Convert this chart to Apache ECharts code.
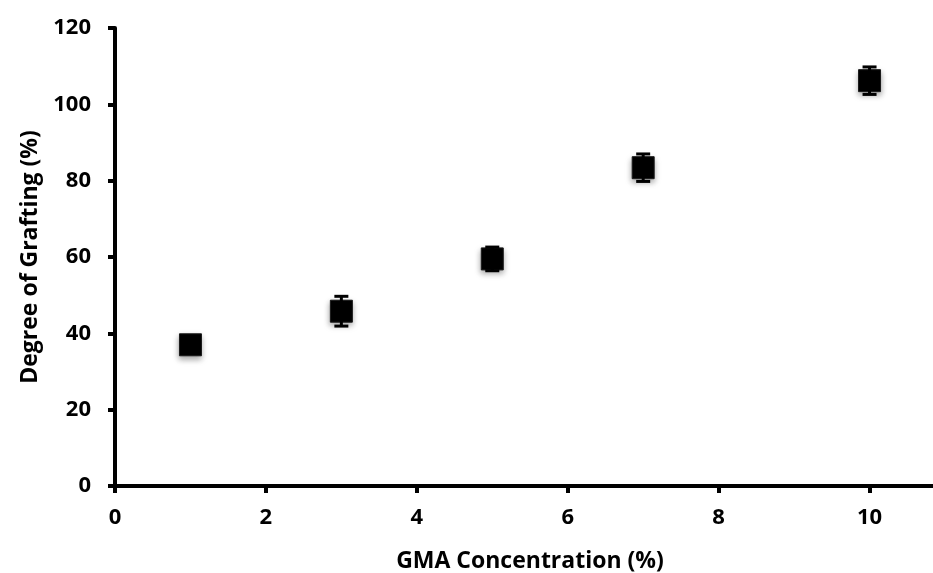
<!DOCTYPE html>
<html><head><meta charset="utf-8">
<script src="https://cdn.jsdelivr.net/npm/echarts@6/dist/echarts.min.js"></script>
<style>html,body{margin:0;padding:0;background:#fff}#c{width:933px;height:573px}</style>
</head><body><div id="c"></div>
<script>
const xValues = [1, 3, 5, 7, 10];
const yValues = [37.0, 45.8, 59.5, 83.4, 106.2];
const yErrors = [1.0, 3.9, 3.1, 3.6, 3.6];
const yTicks = [0, 20, 40, 60, 80, 100, 120];
const xTicks = [0, 2, 4, 6, 8, 10];

const chart = echarts.init(document.getElementById('c'));
const font = '"Open Sans", "Liberation Sans", sans-serif';
const errData = xValues.map((x, i) => [x, yValues[i] - yErrors[i], yValues[i] + yErrors[i]]);
chart.setOption({
  animation: false,
  grid: { left: 115, top: 28, width: 830, height: 458, containLabel: false, outerBoundsMode: 'none' },
  xAxis: {
    type: 'value', min: 0, max: 11, interval: 2,
    name: 'GMA Concentration (%)', nameLocation: 'middle', nameGap: 64,
    nameTextStyle: { fontFamily: font, fontWeight: 'bold', fontSize: 23, color: '#000' },
    axisLine: { lineStyle: { color: '#000', width: 4 } },
    axisTick: { show: true, inside: false, length: 7, lineStyle: { color: '#000', width: 4 } },
    axisLabel: { fontFamily: font, fontWeight: 'bold', fontSize: 22, color: '#000', margin: 21,
      formatter: v => xTicks.includes(v) ? String(v) : '' },
    splitLine: { show: false }
  },
  yAxis: {
    type: 'value', min: 0, max: 120, interval: 20,
    name: 'Degree of Grafting (%)', nameLocation: 'middle', nameGap: 72,
    nameTextStyle: { fontFamily: font, fontWeight: 'bold', fontSize: 23, color: '#000' },
    axisLine: { lineStyle: { color: '#000', width: 4 } },
    axisTick: { show: true, inside: false, length: 7, lineStyle: { color: '#000', width: 4 } },
    axisLabel: { fontFamily: font, fontWeight: 'bold', fontSize: 22, color: '#000', margin: 24,
      formatter: v => yTicks.includes(v) ? String(v) : '' },
    splitLine: { show: false }
  },
  series: [
    {
      type: 'scatter',
      data: xValues.map((x, i) => [x, yValues[i]]),
      symbol: 'rect', symbolSize: 22,
      itemStyle: { color: '#000', opacity: 1, borderColor: '#1a1a1a', borderWidth: 1,
        shadowColor: 'rgba(0,0,0,0.35)', shadowBlur: 6, shadowOffsetY: 3 },
      z: 2
    },
    {
      type: 'custom',
      data: errData,
      z: 3,
      renderItem: function (params, api) {
        const x = api.value(0);
        const lo = api.coord([x, api.value(1)]);
        const hi = api.coord([x, api.value(2)]);
        const cw = 7;
        const style = { stroke: '#000', lineWidth: 3 };
        return {
          type: 'group',
          children: [
            { type: 'line', shape: { x1: hi[0], y1: hi[1], x2: lo[0], y2: lo[1] }, style },
            { type: 'line', shape: { x1: hi[0] - cw, y1: hi[1], x2: hi[0] + cw, y2: hi[1] }, style },
            { type: 'line', shape: { x1: lo[0] - cw, y1: lo[1], x2: lo[0] + cw, y2: lo[1] }, style }
          ]
        };
      }
    }
  ]
});
</script></body></html>
